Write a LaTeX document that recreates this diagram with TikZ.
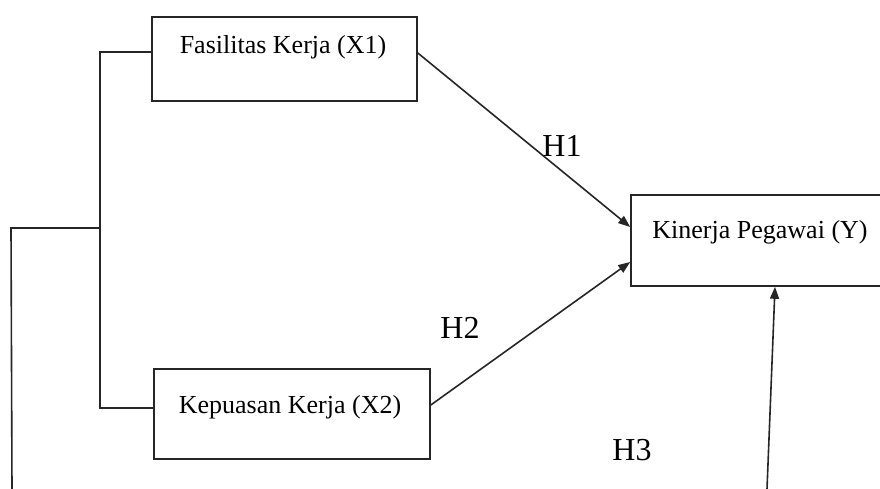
\documentclass[tikz,border=0pt]{standalone}
\usepackage{fontspec}
\setmainfont{Liberation Serif}
\usetikzlibrary{arrows.meta}
\begin{document}
\begin{tikzpicture}[x=1pt,y=-1pt,
  line/.style={draw=black!85, line width=1.6pt},
  arr/.style={line, -{Triangle[length=12pt,width=9pt]}},
  box/.style={line, rectangle, inner sep=0pt},
  lbl/.style={font=\fontsize{26}{30}\selectfont, anchor=base, inner sep=0pt},
  hlbl/.style={font=\fontsize{32}{36}\selectfont, anchor=base, inner sep=0pt}]
\useasboundingbox (0,0) rectangle (880,489);
\clip (0,0) rectangle (880,489);
% boxes
\node[box, minimum width=265pt, minimum height=84pt] (x1) at (284.5,59) {};
\node[box, minimum width=276pt, minimum height=90pt] (x2) at (292,414) {};
\node[box, minimum width=280pt, minimum height=91pt] (y) at (771,240.5) {};
% texts
\node[lbl] (tx1) at (283,54) {Fasilitas Kerja (X1)};
\node[lbl] (tx2) at (290,413) {Kepuasan Kerja (X2)};
\node[lbl] (ty) at (760,238) {Kinerja Pegawai (Y)};
\node[hlbl] (h1) at (562,157) {H1};
\node[hlbl] (h2) at (460,338) {H2};
\node[hlbl] (h3) at (632,460) {H3};
% bracket
\coordinate (bt) at (100,52);
\coordinate (bb) at (100,408);
\coordinate (bm) at (100,228);
\coordinate (lt) at (11,228);
\coordinate (lb) at (12,489);
\coordinate (ys) at (767,489);
\draw[line] (x1.west |- bt) -- (bt) -- (bb) -- (x2.west |- bb);
\draw[line] (bm) -- (lt) -- (lb);
% arrows
\draw[arr] (x1.east |- 0,53) -- (y.west |- 0,227);
\draw[arr] (x2.east |- 0,405) -- (y.west |- 0,262);
\draw[arr] (ys) -- (775,0 |- y.south);
\end{tikzpicture}
\end{document}
